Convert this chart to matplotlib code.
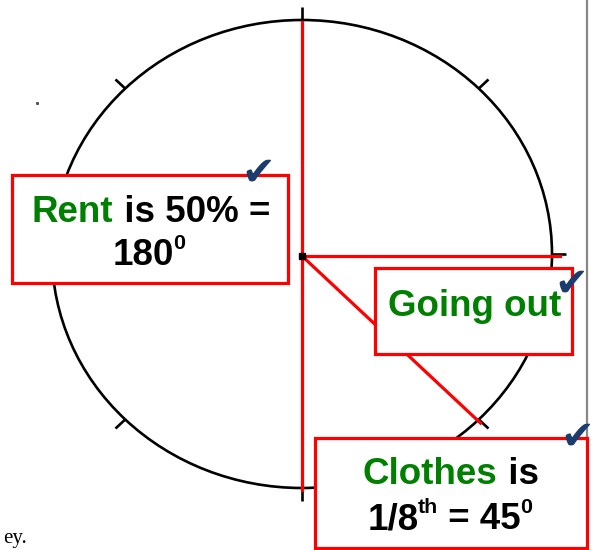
import numpy as np
import matplotlib.pyplot as plt
from matplotlib.patches import Ellipse, Rectangle

# pie outline, radial dividers and compass ticks (degrees, counter-clockwise from east)
tick_angles = [0, 45, 90, 135, 180, 225, 270, 315]
divider_angles = [90, 270, 0, 315]
divider_reach = [1.0, 1.0, 1.03, 1.01]

# label boxes: (x0, y0, x1, y1) in pixels, then text lines made of (text, colour, is_superscript)
box_rects = [(12, 175, 288, 283), (375, 268, 572, 354), (315, 438, 587, 548)]
box_lines = [
    [(32, 222, [('Rent', 'green', False), (' is 50% =', 'black', False)]),
     (113, 265, [('180', 'black', False), ('0', 'black', True)])],
    [(388, 316, [('Going out', 'green', False)])],
    [(363, 484, [('Clothes', 'green', False), (' is', 'black', False)]),
     (368, 529, [('1/8', 'black', False), ('th', 'black', True),
                 (' = 45', 'black', False), ('0', 'black', True)])],
]
check_pos = [(258, 174), (571, 285), (577, 438)]

cx, cy = 302, 254
rx, ry = 250, 234
RED = '#ff0000'
NAVY = '#1b3c6e'

fig = plt.figure(figsize=(5.95, 5.5), dpi=100)
ax = fig.add_axes([0, 0, 1, 1])
ax.set_xlim(0, 595)
ax.set_ylim(550, 0)
ax.axis('off')

# circle
ax.add_patch(Ellipse((cx, cy), 2 * rx, 2 * ry, fill=False, ec='black', lw=1.9, zorder=1))

# outward tick marks
for a in tick_angles:
    t = np.radians(a)
    r0, r1 = 1.0, 1.055
    ax.plot([cx + r0 * rx * np.cos(t), cx + r1 * rx * np.cos(t)],
            [cy - r0 * ry * np.sin(t), cy - r1 * ry * np.sin(t)],
            color='black', lw=1.9, zorder=1, solid_capstyle='butt')

# red sector dividers
for a, reach in zip(divider_angles, divider_reach):
    t = np.radians(a)
    ax.plot([cx, cx + reach * rx * np.cos(t)], [cy + 2, cy + 2 - reach * ry * np.sin(t)],
            color=RED, lw=2.3, zorder=2)
ax.plot([cx], [cy + 2], marker='s', ms=4, color='black', zorder=3)

# grey edge line on the right
ax.plot([587, 587], [0, 438], color='#888888', lw=1.6, zorder=1)

# stray speck and cut-off word
ax.plot([37], [103], marker='s', ms=1.2, color='#555555', zorder=1)
ax.text(3, 543, 'ey.', fontsize=15, family='Liberation Serif', va='baseline', ha='left')


def draw_line(x, y, pieces, size=26.5):
    prev = None
    for txt, col, sup in pieces:
        fs = size * 0.58 if sup else size
        if prev is None:
            prev = ax.text(x, y, txt, fontsize=fs, color=col, weight='bold',
                           family='Liberation Sans', va='baseline', ha='left', zorder=6)
            continue
        if sup:
            prev = ax.annotate(txt, xy=(1, 0), xycoords=prev, xytext=(-1, 20),
                               textcoords='offset pixels', fontsize=fs, color=col,
                               weight='bold', family='Liberation Sans',
                               va='bottom', ha='left', zorder=6)
            prev._was_sup = True
        else:
            off = -20 if getattr(prev, '_was_sup', False) else 0
            prev = ax.annotate(txt, xy=(1, 0), xycoords=prev, xytext=(0, off),
                               textcoords='offset pixels', fontsize=fs, color=col,
                               weight='bold', family='Liberation Sans',
                               va='bottom', ha='left', zorder=6)


for (x0, y0, x1, y1), lines, (kx, ky) in zip(box_rects, box_lines, check_pos):
    ax.add_patch(Rectangle((x0, y0), x1 - x0, y1 - y0, fc='white', ec=RED, lw=2.3, zorder=5))
    for x, y, pieces in lines:
        draw_line(x, y, pieces)
    ax.text(kx, ky, '\u2714', fontsize=29, color=NAVY, family='DejaVu Sans',
            ha='center', va='center', zorder=7)

fig.savefig('out.png', dpi=100)
